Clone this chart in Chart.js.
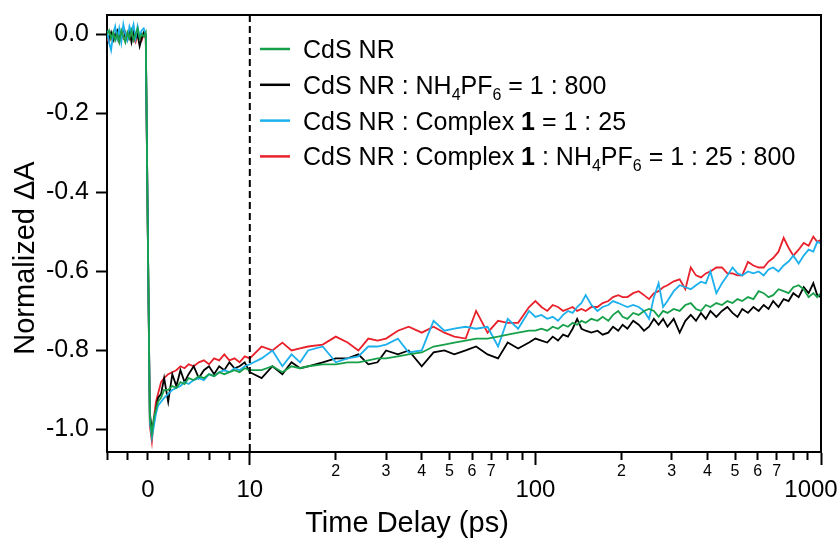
<!DOCTYPE html>
<html>
<head>
<meta charset="utf-8">
<title>Normalized transient absorption kinetics</title>
<script src="https://cdn.jsdelivr.net/npm/chart.js@4.4.1/dist/chart.umd.min.js"></script>
<style>
  body { margin: 0; background: #fff; }
  canvas { display: block; }
</style>
</head>
<body>
<canvas id="chartKinetics" width="839" height="540"></canvas>
<script>
// Time delay (ps): linear part up to 10 ps, log part from 10 to 1000 ps
const TIME_PS = [
  -4, -3.8, -3.6, -3.4, -3.2, -3, -2.8, -2.6, -2.4, -2.2,
  -2, -1.8, -1.6, -1.4, -1.2, -1, -0.8, -0.6, -0.4, -0.2,
  0, 0.2, 0.4, 0.6, 0.8, 1, 1.3, 1.6, 2, 2.4,
  2.8, 3.2, 3.6, 4, 4.5, 5, 5.5, 6, 6.5, 7,
  7.5, 8, 8.5, 9, 9.5, 10,
  11, 12, 13, 14, 15, 16, 18, 20, 22, 24,
  26, 28, 30, 33, 36, 40, 44, 48, 52, 57,
  62, 68, 74, 80, 87, 95,
  100, 105, 110, 115, 120, 125, 130, 135, 140, 145,
  150, 157, 165, 172, 180, 187, 195, 202, 210, 220,
  230, 240, 250, 260, 270, 280, 290, 305, 320, 335,
  350, 365, 380, 395, 410, 430, 450, 470, 490, 510,
  530, 555, 580, 605, 630, 655, 680, 710, 740, 770,
  800, 835, 870, 905, 940, 970, 1000
];

// CdS NR
const CDS_NR = [
  0.00, 0.01, -0.01, 0.005, -0.015, 0.0, -0.02, 0.01, -0.005, -0.02,
  0.005, -0.01, 0.01, -0.015, 0.0, 0.015, -0.01, 0.0, -0.005, 0.005,
  -0.5, -0.97, -1.01, -0.97, -0.95, -0.93, -0.92, -0.90, -0.90, -0.89,
  -0.895, -0.88, -0.885, -0.87, -0.875, -0.865, -0.87, -0.86, -0.865, -0.855,
  -0.86, -0.855, -0.85, -0.855, -0.845, -0.85,
  -0.85, -0.84, -0.855, -0.84, -0.845, -0.84, -0.835, -0.835, -0.83, -0.83,
  -0.825, -0.82, -0.82, -0.815, -0.81, -0.805, -0.79, -0.785, -0.78, -0.775,
  -0.77, -0.77, -0.765, -0.76, -0.755, -0.75,
  -0.75, -0.745, -0.75, -0.74, -0.745, -0.735, -0.74, -0.73, -0.735, -0.725,
  -0.73, -0.72, -0.725, -0.715, -0.725, -0.71, -0.70, -0.715, -0.72, -0.705,
  -0.71, -0.70, -0.695, -0.70, -0.715, -0.70, -0.705, -0.695, -0.70, -0.685,
  -0.68, -0.695, -0.70, -0.685, -0.69, -0.68, -0.685, -0.675, -0.68, -0.67,
  -0.675, -0.665, -0.67, -0.65, -0.655, -0.665, -0.66, -0.645, -0.65, -0.655,
  -0.64, -0.635, -0.645, -0.665, -0.655, -0.665, -0.655
];

// CdS NR : NH4PF6 = 1 : 800
const CDS_NH4PF6 = [
  0.0, -0.01, 0.005, -0.015, 0.0, 0.01, -0.01, 0.005, 0.015, -0.005,
  0.0, 0.01, -0.02, 0.005, -0.01, 0.0, -0.03, -0.01, 0.005, 0.0,
  -0.5, -0.96, -1.00, -0.98, -0.95, -0.92, -0.91, -0.87, -0.93, -0.86,
  -0.89, -0.85, -0.88, -0.86, -0.84, -0.87, -0.85, -0.84, -0.86, -0.84,
  -0.85, -0.83, -0.845, -0.84, -0.83, -0.855,
  -0.87, -0.84, -0.86, -0.83, -0.845, -0.84, -0.83, -0.82, -0.82, -0.81,
  -0.835, -0.83, -0.80, -0.81, -0.80, -0.84, -0.805, -0.80, -0.81, -0.80,
  -0.79, -0.81, -0.82, -0.78, -0.795, -0.78,
  -0.77, -0.775, -0.78, -0.765, -0.775, -0.76, -0.765, -0.745, -0.72, -0.745,
  -0.75, -0.755, -0.75, -0.76, -0.755, -0.74, -0.75, -0.735, -0.745, -0.725,
  -0.735, -0.75, -0.74, -0.72, -0.735, -0.72, -0.74, -0.72, -0.755, -0.725,
  -0.71, -0.725, -0.705, -0.72, -0.70, -0.715, -0.70, -0.69, -0.705, -0.715,
  -0.695, -0.705, -0.69, -0.70, -0.685, -0.695, -0.675, -0.69, -0.67, -0.675,
  -0.655, -0.665, -0.64, -0.655, -0.63, -0.66, -0.665
];

// CdS NR : Complex 1 = 1 : 25
const CDS_COMPLEX = [
  0.01, -0.02, -0.04, 0.0, 0.02, -0.01, 0.015, -0.02, 0.025, 0.0,
  -0.015, 0.02, 0.005, 0.025, -0.01, 0.02, -0.005, 0.01, 0.015, 0.0,
  -0.5, -0.98, -1.02, -0.99, -0.96, -0.94, -0.93, -0.92, -0.91, -0.90,
  -0.895, -0.89, -0.88, -0.885, -0.875, -0.87, -0.875, -0.86, -0.865, -0.855,
  -0.85, -0.855, -0.845, -0.85, -0.84, -0.835,
  -0.82, -0.80, -0.84, -0.81, -0.83, -0.80, -0.79, -0.83, -0.82, -0.815,
  -0.79, -0.79, -0.785, -0.77, -0.805, -0.80, -0.725, -0.75, -0.745, -0.74,
  -0.745, -0.74, -0.79, -0.72, -0.745, -0.70,
  -0.715, -0.71, -0.72, -0.715, -0.725, -0.71, -0.70, -0.705, -0.69, -0.68,
  -0.66, -0.685, -0.70, -0.69, -0.685, -0.675, -0.68, -0.685, -0.69, -0.685,
  -0.69, -0.70, -0.72, -0.665, -0.63, -0.69, -0.675, -0.65, -0.635, -0.64,
  -0.645, -0.635, -0.626, -0.63, -0.60, -0.655, -0.63, -0.61, -0.59, -0.605,
  -0.61, -0.60, -0.605, -0.60, -0.61, -0.595, -0.59, -0.60, -0.585, -0.575,
  -0.56, -0.58, -0.56, -0.545, -0.55, -0.525, -0.53
];

// CdS NR : Complex 1 : NH4PF6 = 1 : 25 : 800
const CDS_COMPLEX_NH4PF6 = [
  -0.01, -0.02, -0.005, -0.015, 0.0, -0.01, -0.02, 0.0, -0.01, 0.005,
  -0.015, -0.005, 0.0, -0.01, -0.02, 0.0, -0.005, -0.015, 0.0, -0.01,
  -0.5, -0.99, -1.03, -0.97, -0.93, -0.91, -0.88, -0.87, -0.86, -0.855,
  -0.85, -0.84, -0.845, -0.835, -0.84, -0.83, -0.825, -0.835, -0.82, -0.825,
  -0.81, -0.825, -0.82, -0.83, -0.815, -0.82,
  -0.79, -0.80, -0.78, -0.80, -0.795, -0.79, -0.785, -0.765, -0.78, -0.80,
  -0.77, -0.775, -0.77, -0.75, -0.74, -0.755, -0.74, -0.755, -0.765, -0.77,
  -0.70, -0.755, -0.725, -0.73, -0.73, -0.69,
  -0.675, -0.69, -0.70, -0.685, -0.69, -0.70, -0.695, -0.69, -0.70, -0.695,
  -0.70, -0.69, -0.69, -0.68, -0.675, -0.665, -0.66, -0.665, -0.665, -0.655,
  -0.65, -0.66, -0.67, -0.655, -0.65, -0.64, -0.635, -0.625, -0.62, -0.645,
  -0.59, -0.61, -0.615, -0.605, -0.60, -0.59, -0.59, -0.605, -0.605, -0.61,
  -0.61, -0.576, -0.585, -0.59, -0.59, -0.575, -0.566, -0.55, -0.515, -0.54,
  -0.56, -0.545, -0.528, -0.535, -0.512, -0.525, -0.52
];

const Y_TICKS = [0, -0.2, -0.4, -0.6, -0.8, -1.0];
const X_TICKS = [-4, -2, 0, 2, 4, 6, 8, 10, 20, 30, 40, 50, 60, 70, 80, 90,
  100, 200, 300, 400, 500, 600, 700, 800, 900, 1000];
const X_TICK_LABELS = ['', '', '0', '', '', '', '', '10', '2', '3', '4', '5', '6', '7', '', '',
  '100', '2', '3', '4', '5', '6', '7', '', '', '1000   '];
const X_BIG_LABELS = [0, 10, 100, 1000];
const X_LONG_TICKS = [10, 100, 1000];

// legend pieces: plain, subscript or bold
const LEGEND_TEXT = [
  [['CdS NR']],
  [['CdS NR : NH'], ['4', 'sub'], ['PF'], ['6', 'sub'], [' = 1 : 800']],
  [['CdS NR : Complex '], ['1', 'bold'], [' = 1 : 25']],
  [['CdS NR : Complex '], ['1', 'bold'], [' : NH'], ['4', 'sub'], ['PF'], ['6', 'sub'], [' = 1 : 25 : 800']]
];

const X_SPLIT = 10;     // ps where the axis switches from linear to log
const X_DECADE = 28;    // width of one decade in linear-ps units
const FONT = "'Liberation Sans', Arial, sans-serif";

// linear below 10 ps, logarithmic above
class SplitScale extends Chart.LinearScale {
  static id = 'split';
  static defaults = Chart.LinearScale.defaults;

  toUnit(v) {
    return v <= X_SPLIT ? v : X_SPLIT + X_DECADE * Math.log10(v / X_SPLIT);
  }
  fromUnit(u) {
    return u <= X_SPLIT ? u : X_SPLIT * Math.pow(10, (u - X_SPLIT) / X_DECADE);
  }
  buildTicks() {
    return X_TICKS.map(v => ({value: v}));
  }
  getPixelForValue(value) {
    const lo = this.toUnit(this.min), hi = this.toUnit(this.max);
    return this.getPixelForDecimal((this.toUnit(value) - lo) / (hi - lo));
  }
  getValueForPixel(pixel) {
    const lo = this.toUnit(this.min), hi = this.toUnit(this.max);
    return this.fromUnit(lo + this.getDecimalForPixel(pixel) * (hi - lo));
  }
}
Chart.register(SplitScale);

function points(values) {
  return TIME_PS.map((t, i) => ({x: t, y: values[i]}));
}

const COLORS = ['#17a04a', '#000000', '#1cb0ec', '#e8212b'];

const decorations = {
  id: 'decorations',
  afterDraw(chart) {
    const {ctx, chartArea: a, scales} = chart;
    ctx.save();
    ctx.strokeStyle = '#000';
    ctx.lineWidth = 2;

    // top and right frame
    ctx.beginPath();
    ctx.moveTo(a.left, a.top);
    ctx.lineTo(a.right, a.top);
    ctx.lineTo(a.right, a.bottom);
    ctx.stroke();

    // dashed line at the axis break
    const xs = scales.x.getPixelForValue(X_SPLIT);
    ctx.setLineDash([7, 4]);
    ctx.beginPath();
    ctx.moveTo(xs, a.top);
    ctx.lineTo(xs, a.bottom);
    ctx.stroke();
    ctx.setLineDash([]);

    // legend
    ctx.fillStyle = '#000';
    ctx.textAlign = 'left';
    ctx.textBaseline = 'alphabetic';
    LEGEND_TEXT.forEach((parts, i) => {
      const y = 49 + i * 35.8;
      ctx.strokeStyle = COLORS[i];
      ctx.lineWidth = 2.5;
      ctx.beginPath();
      ctx.moveTo(260, y);
      ctx.lineTo(290, y);
      ctx.stroke();
      let x = 303;
      parts.forEach(([text, kind]) => {
        let dy = 9;
        if (kind === 'sub') {
          ctx.font = '16px ' + FONT;
          dy = 15;
        } else if (kind === 'bold') {
          ctx.font = 'bold 25px ' + FONT;
        } else {
          ctx.font = '25px ' + FONT;
        }
        ctx.fillText(text, x, y + dy);
        x += ctx.measureText(text).width;
      });
    });

    // axis titles
    ctx.font = '29px ' + FONT;
    ctx.textAlign = 'center';
    ctx.fillText('Time Delay (ps)', 407, 532);
    ctx.translate(34, 258);
    ctx.rotate(-Math.PI / 2);
    ctx.fillText('Normalized \u0394A', 0, 0);
    ctx.restore();
  }
};

Chart.defaults.font.family = FONT;
Chart.defaults.color = '#000';

new Chart(document.getElementById('chartKinetics'), {
  type: 'line',
  data: {
    datasets: [
      {label: 'CdS NR', data: points(CDS_NR), borderColor: COLORS[0], order: 0},
      {label: 'CdS NR : NH4PF6 = 1 : 800', data: points(CDS_NH4PF6), borderColor: COLORS[1], order: 2},
      {label: 'CdS NR : Complex 1 = 1 : 25', data: points(CDS_COMPLEX), borderColor: COLORS[2], order: 1},
      {label: 'CdS NR : Complex 1 : NH4PF6 = 1 : 25 : 800', data: points(CDS_COMPLEX_NH4PF6), borderColor: COLORS[3], order: 3}
    ]
  },
  options: {
    responsive: false,
    animation: false,
    layout: {padding: {top: 15, right: 18, left: 0, bottom: 0}},
    elements: {
      line: {borderWidth: 1.8, tension: 0, fill: false},
      point: {radius: 0}
    },
    plugins: {
      legend: {display: false},
      tooltip: {enabled: false}
    },
    scales: {
      x: {
        type: 'split',
        min: -4,
        max: 1000,
        afterFit: s => { s.height = 88; s.paddingLeft = 0; s.paddingRight = 0; },
        border: {color: '#000', width: 2},
        grid: {
          drawOnChartArea: false,
          tickLength: 13,
          tickWidth: 2,
          tickColor: '#000',
          tickBorderDash: c => (c.tick && X_LONG_TICKS.includes(c.tick.value)) ? [] : [7, 30]
        },
        ticks: {
          autoSkip: false,
          maxRotation: 0,
          padding: 0,
          color: '#000',
          callback: (v, i) => X_TICK_LABELS[i],
          font: c => (c.tick && X_BIG_LABELS.includes(c.tick.value))
            ? {size: 24, lineHeight: 50 / 24}
            : {size: 16, lineHeight: 14 / 16}
        }
      },
      y: {
        min: -1.057,
        max: 0.049,
        afterBuildTicks: s => { s.ticks = Y_TICKS.map(v => ({value: v})); },
        afterFit: s => { s.width = 107; s.paddingTop = 0; s.paddingBottom = 0; },
        border: {color: '#000', width: 2},
        grid: {drawOnChartArea: false, tickLength: 11, tickWidth: 2, tickColor: '#000'},
        ticks: {
          padding: 7,
          color: '#000',
          font: {size: 25},
          callback: v => v.toFixed(1)
        }
      }
    }
  },
  plugins: [decorations]
});
</script>
</body>
</html>
